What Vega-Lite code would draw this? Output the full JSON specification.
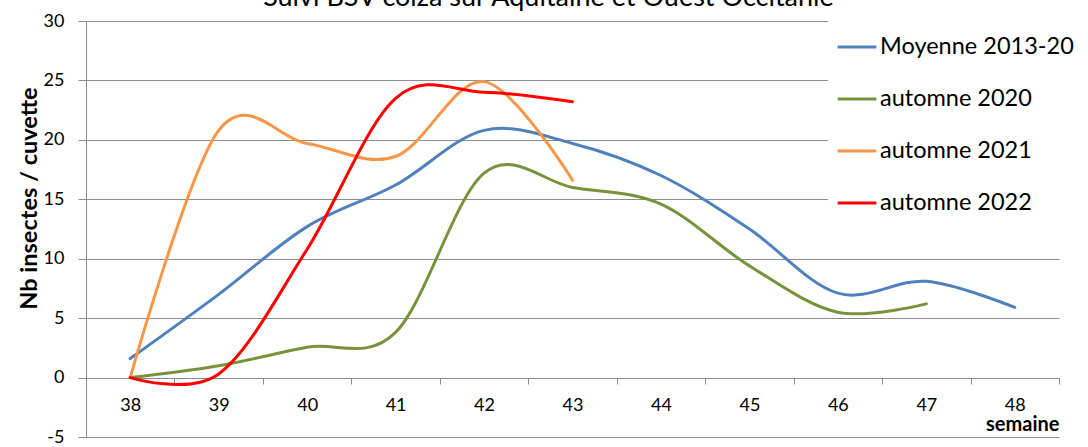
{
  "$schema": "https://vega.github.io/schema/vega-lite/v6.json",
  "autosize": {"type": "none"},
  "width": 973,
  "height": 416,
  "padding": {"left": 86, "top": 21, "right": 29, "bottom": 10},
  "background": "white",
  "title": {
    "text": "Suivi BSV colza sur Aquitaine et Ouest Occitanie",
    "font": "Lato",
    "fontSize": 27,
    "fontWeight": "normal",
    "color": "#000000",
    "anchor": "middle",
    "frame": "group",
    "baseline": "alphabetic",
    "offset": -21,
    "dx": -24
  },
  "config": {
    "view": {"stroke": null},
    "font": "Lato"
  },
  "data": {
    "values": [
      {"semaine": 38, "serie": "Moyenne 2013-20", "valeur": 1.6},
      {"semaine": 39, "serie": "Moyenne 2013-20", "valeur": 7.0},
      {"semaine": 40, "serie": "Moyenne 2013-20", "valeur": 12.7},
      {"semaine": 41, "serie": "Moyenne 2013-20", "valeur": 16.2},
      {"semaine": 42, "serie": "Moyenne 2013-20", "valeur": 20.8},
      {"semaine": 43, "serie": "Moyenne 2013-20", "valeur": 19.7},
      {"semaine": 44, "serie": "Moyenne 2013-20", "valeur": 17.0},
      {"semaine": 45, "serie": "Moyenne 2013-20", "valeur": 12.5},
      {"semaine": 46, "serie": "Moyenne 2013-20", "valeur": 7.1},
      {"semaine": 47, "serie": "Moyenne 2013-20", "valeur": 8.1},
      {"semaine": 48, "serie": "Moyenne 2013-20", "valeur": 5.9},
      {"semaine": 38, "serie": "automne 2020", "valeur": 0},
      {"semaine": 39, "serie": "automne 2020", "valeur": 1.0},
      {"semaine": 40, "serie": "automne 2020", "valeur": 2.55},
      {"semaine": 41, "serie": "automne 2020", "valeur": 3.8},
      {"semaine": 42, "serie": "automne 2020", "valeur": 17.2},
      {"semaine": 43, "serie": "automne 2020", "valeur": 16.0},
      {"semaine": 44, "serie": "automne 2020", "valeur": 14.6},
      {"semaine": 45, "serie": "automne 2020", "valeur": 9.4},
      {"semaine": 46, "serie": "automne 2020", "valeur": 5.5},
      {"semaine": 47, "serie": "automne 2020", "valeur": 6.2},
      {"semaine": 38, "serie": "automne 2021", "valeur": 0},
      {"semaine": 39, "serie": "automne 2021", "valeur": 20.8},
      {"semaine": 40, "serie": "automne 2021", "valeur": 19.7},
      {"semaine": 41, "serie": "automne 2021", "valeur": 18.6},
      {"semaine": 42, "serie": "automne 2021", "valeur": 24.9},
      {"semaine": 43, "serie": "automne 2021", "valeur": 16.6},
      {"semaine": 38, "serie": "automne 2022", "valeur": 0},
      {"semaine": 39, "serie": "automne 2022", "valeur": 0.3},
      {"semaine": 40, "serie": "automne 2022", "valeur": 10.8},
      {"semaine": 41, "serie": "automne 2022", "valeur": 23.5},
      {"semaine": 42, "serie": "automne 2022", "valeur": 24.0},
      {"semaine": 43, "serie": "automne 2022", "valeur": 23.2}
    ]
  },
  "mark": {"type": "line", "interpolate": "cardinal", "strokeCap": "round"},
  "encoding": {
    "x": {
      "field": "semaine",
      "type": "quantitative",
      "scale": {"domain": [37.5, 48.5], "nice": false, "zero": false},
      "axis": {
        "orient": "bottom",
        "offset": -59,
        "values": [37.5, 38, 38.5, 39, 39.5, 40, 40.5, 41, 41.5, 42, 42.5, 43, 43.5, 44, 44.5, 45, 45.5, 46, 46.5, 47, 47.5, 48, 48.5],
        "labelExpr": "datum.value % 1 === 0 ? '' + datum.value : ''",
        "labelFlush": false,
        "labelOverlap": false,
        "labelFontSize": 18,
        "labelColor": "#000000",
        "labelPadding": 12,
        "grid": false,
        "domainColor": "#8c8c8c",
        "domainWidth": 1,
        "ticks": true,
        "tickSize": 6,
        "tickColor": "#8c8c8c",
        "tickOpacity": {"condition": {"test": "datum.value % 1 !== 0", "value": 1}, "value": 0},
        "title": "semaine",
        "titleFontSize": 20,
        "titleFontWeight": "bold",
        "titleColor": "#000000",
        "titleX": 973,
        "titleY": 46,
        "titleAlign": "right",
        "titleBaseline": "middle",
        "titleAnchor": null
      }
    },
    "y": {
      "field": "valeur",
      "type": "quantitative",
      "scale": {"domain": [-5, 30], "nice": false, "zero": false},
      "axis": {
        "values": [-5, 0, 5, 10, 15, 20, 25, 30],
        "labelExpr": "'' + datum.value",
        "grid": true,
        "gridColor": "#8c8c8c",
        "gridWidth": 1,
        "domainColor": "#8c8c8c",
        "tickColor": "#8c8c8c",
        "tickSize": 8,
        "labelFontSize": 18,
        "labelColor": "#000000",
        "labelPadding": 14,
        "title": "Nb insectes / cuvette",
        "titleFontSize": 23.5,
        "titleFontWeight": "bold",
        "titleColor": "#000000",
        "titleX": -57,
        "titleY": 177,
        "titleAngle": -90,
        "titleAlign": "center",
        "titleBaseline": "middle"
      }
    },
    "color": {
      "field": "serie",
      "type": "nominal",
      "scale": {
        "domain": ["Moyenne 2013-20", "automne 2020", "automne 2021", "automne 2022"],
        "range": ["#4F81BD", "#77933C", "#F79646", "#FF0000"]
      },
      "legend": {
        "orient": "none",
        "legendX": 742,
        "legendY": -3,
        "zindex": 2,
        "title": null,
        "symbolType": "stroke",
        "symbolSize": 1500,
        "symbolStrokeWidth": 3,
        "labelFontSize": 23.5,
        "labelColor": "#000000",
        "labelOffset": 2,
        "labelLimit": 400,
        "rowPadding": 19,
        "fillColor": "white",
        "padding": 8
      }
    },
    "strokeWidth": {
      "field": "serie",
      "type": "nominal",
      "scale": {
        "domain": ["Moyenne 2013-20", "automne 2020", "automne 2021", "automne 2022"],
        "range": [3, 3, 3, 4.5]
      },
      "legend": null
    },
    "order": {"field": "semaine", "type": "quantitative"}
  }
}
